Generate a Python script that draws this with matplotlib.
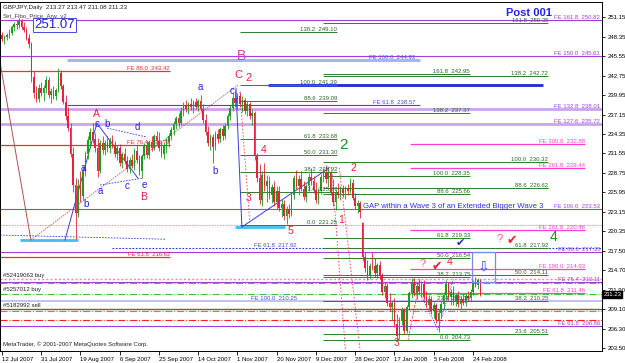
import matplotlib
matplotlib.use('Agg')
import matplotlib.pyplot as plt
import matplotlib.transforms as mtransforms
from matplotlib.patches import Rectangle
import numpy as np

plt.rcParams['font.family'] = ['Liberation Sans', 'DejaVu Sans']

# --- GBPJPY daily bars, 12 Jul 2007 .. 26 Feb 2008 ---
opens = [248.6, 248.0, 248.3, 248.6, 248.9, 249.8, 250.2, 250.0, 250.6, 249.8,
         249.3, 248.2, 247.3, 242.6, 240.3, 239.4, 241.0, 240.2, 240.9, 242.1,
         239.9, 240.6, 239.8, 240.7, 243.2, 241.2, 239.0, 237.0, 235.2, 231.5,
         227.0, 223.0, 226.8, 225.4, 229.2, 231.4, 233.5, 234.6, 233.6, 232.4,
         229.0, 233.0, 232.0, 233.1, 232.4, 233.5, 232.7, 231.4, 232.3, 230.2,
         231.5, 230.4, 229.3, 230.6, 229.8, 231.9, 230.6, 229.0, 231.2, 232.6,
         231.3, 233.2, 232.4, 234.0, 233.3, 232.3, 231.5, 232.6, 233.2, 234.1,
         234.9, 235.8, 236.6, 235.9, 237.7, 238.4, 238.0, 238.7, 238.2, 239.0,
         238.3, 239.1, 238.0, 236.4, 234.6, 233.0, 233.9, 232.5, 234.3, 233.6,
         235.0, 234.0, 235.5, 237.0, 238.1, 239.6, 238.8, 239.8, 238.6, 239.2,
         237.6, 238.6, 236.9, 237.4, 231.2, 228.0, 224.8, 228.5, 226.8, 227.6,
         225.6, 226.7, 224.5, 226.2, 223.7, 224.3, 222.6, 223.5, 222.8, 225.6,
         228.0, 226.9, 227.9, 226.5, 225.3, 226.8, 228.1, 227.6, 226.3, 224.9,
         226.1, 228.2, 228.9, 227.8, 228.7, 226.0, 224.6, 226.0, 225.5, 226.4,
         225.8, 226.5, 226.1, 227.3, 225.2, 224.0, 224.4, 221.5, 216.6, 215.0,
         213.9, 215.4, 215.3, 214.3, 215.5, 213.9, 211.6, 212.5, 210.0, 209.4,
         210.0, 207.0, 205.3, 207.5, 209.0, 206.0, 209.4, 211.4, 213.0, 211.5,
         212.4, 211.7, 212.8, 210.9, 209.8, 210.6, 208.8, 209.7, 207.6, 208.6,
         209.9, 211.1, 212.8, 210.9, 211.6, 210.2, 211.1, 209.9, 210.6, 210.0,
         211.0, 210.7, 211.6, 213.0, 212.6, 213.27]
highs = [249.0, 248.6, 248.9, 249.4, 250.0, 250.5, 250.8, 251.07, 250.9, 250.4,
         249.8, 248.7, 247.6, 243.4, 241.2, 241.5, 241.9, 241.4, 242.7, 242.5,
         241.0, 241.3, 241.0, 243.8, 243.5, 241.5, 240.0, 238.3, 236.0, 232.5,
         228.0, 227.8, 229.0, 229.8, 231.9, 234.0, 235.2, 235.9, 234.5, 233.8,
         233.5, 234.1, 233.5, 234.0, 233.9, 234.2, 233.4, 232.8, 232.9, 231.8,
         232.4, 231.2, 231.0, 231.5, 232.4, 232.8, 231.3, 231.5, 233.0, 233.3,
         233.5, 234.0, 234.4, 234.8, 234.6, 233.4, 233.0, 233.8, 234.5, 235.3,
         236.2, 237.0, 237.4, 238.2, 238.9, 239.3, 239.0, 239.5, 239.3, 239.6,
         239.4, 240.0, 238.6, 237.2, 235.5, 234.4, 234.3, 234.8, 235.0, 235.4,
         235.6, 236.0, 237.4, 238.5, 240.2, 240.7, 240.3, 240.4, 239.8, 239.6,
         239.1, 239.0, 238.0, 237.6, 231.6, 230.0, 229.0, 230.2, 228.4, 228.3,
         227.2, 227.6, 226.8, 226.9, 225.0, 224.9, 224.0, 224.2, 226.0, 228.5,
         229.2, 228.4, 229.0, 227.6, 227.2, 228.7, 229.4, 228.3, 227.5, 226.6,
         228.6, 229.5, 229.9, 229.3, 229.0, 227.9, 226.5, 227.3, 226.8, 227.0,
         226.9, 227.2, 228.0, 227.8, 225.9, 224.9, 224.7, 221.7, 217.4, 216.2,
         215.8, 217.3, 216.5, 215.8, 216.0, 214.3, 213.0, 212.9, 211.5, 210.5,
         210.8, 208.4, 208.0, 209.5, 209.3, 209.8, 211.8, 213.6, 213.6, 213.0,
         213.5, 213.2, 213.3, 211.8, 211.2, 211.0, 210.1, 210.0, 209.2, 210.3,
         211.6, 213.3, 213.0, 212.0, 212.4, 211.5, 211.7, 211.0, 211.3, 211.4,
         211.8, 212.0, 213.4, 213.8, 213.6, 213.47]
lows = [247.8, 247.3, 247.9, 248.2, 248.6, 249.2, 249.5, 249.6, 249.4, 249.0,
        247.9, 246.8, 241.9, 239.6, 238.9, 239.0, 239.8, 239.1, 240.3, 239.5,
        238.8, 239.4, 239.3, 240.4, 240.8, 238.6, 236.4, 234.8, 231.0, 226.0,
        219.2, 222.4, 224.5, 224.9, 228.3, 230.8, 232.4, 233.1, 231.8, 228.2,
        228.7, 231.5, 231.3, 231.8, 231.6, 232.3, 231.0, 230.6, 229.8, 229.4,
        230.0, 228.9, 228.7, 229.5, 229.2, 230.2, 228.5, 228.0, 230.7, 230.9,
        230.8, 231.9, 232.0, 232.8, 231.9, 231.1, 230.8, 231.6, 232.5, 233.5,
        234.2, 235.0, 235.3, 235.6, 236.9, 237.5, 237.2, 237.8, 237.4, 237.9,
        237.6, 237.6, 236.0, 234.2, 232.6, 232.0, 230.2, 232.0, 233.0, 233.2,
        233.5, 233.6, 235.0, 236.4, 237.6, 238.2, 237.9, 238.3, 237.5, 237.2,
        237.0, 236.5, 235.6, 230.6, 227.5, 224.2, 224.0, 226.2, 224.5, 225.0,
        224.4, 224.0, 223.6, 223.2, 222.4, 222.0, 221.4, 222.2, 222.5, 225.0,
        226.4, 225.6, 226.1, 224.8, 224.6, 226.2, 227.0, 225.9, 224.4, 224.3,
        225.7, 227.4, 227.3, 226.7, 225.6, 224.0, 223.4, 225.2, 224.9, 225.3,
        225.0, 225.6, 225.8, 224.8, 223.5, 223.0, 222.3, 216.0, 214.5, 213.4,
        213.5, 214.7, 213.8, 213.6, 213.5, 211.2, 210.8, 209.6, 208.9, 207.6,
        206.5, 204.5, 204.9, 206.8, 205.6, 205.7, 209.0, 210.8, 211.0, 210.6,
        211.3, 210.9, 210.5, 209.4, 209.0, 208.4, 207.8, 207.2, 205.8, 207.9,
        209.3, 210.6, 210.5, 209.8, 209.8, 209.6, 209.5, 209.2, 209.7, 209.6,
        210.3, 210.3, 211.2, 212.3, 212.0, 211.08]
closes = [248.0, 248.3, 248.6, 248.9, 249.8, 250.2, 250.0, 250.6, 249.8, 249.3,
          248.2, 247.3, 242.6, 240.3, 239.4, 241.0, 240.2, 240.9, 242.1, 239.9,
          240.6, 239.8, 240.7, 243.2, 241.2, 239.0, 237.0, 235.2, 231.5, 227.0,
          223.0, 226.8, 225.4, 229.2, 231.4, 233.5, 234.6, 233.6, 232.4, 229.0,
          233.0, 232.0, 233.1, 232.4, 233.5, 232.7, 231.4, 232.3, 230.2, 231.5,
          230.4, 229.3, 230.6, 229.8, 231.9, 230.6, 229.0, 231.2, 232.6, 231.3,
          233.2, 232.4, 234.0, 233.3, 232.3, 231.5, 232.6, 233.2, 234.1, 234.9,
          235.8, 236.6, 235.9, 237.7, 238.4, 238.0, 238.7, 238.2, 239.0, 238.3,
          239.1, 238.0, 236.4, 234.6, 233.0, 233.9, 232.5, 234.3, 233.6, 235.0,
          234.0, 235.5, 237.0, 238.1, 239.6, 238.8, 239.8, 238.6, 239.2, 237.6,
          238.6, 236.9, 237.4, 231.2, 228.0, 224.8, 228.5, 226.8, 227.6, 225.6,
          226.7, 224.5, 226.2, 223.7, 224.3, 222.6, 223.5, 222.8, 225.6, 228.0,
          226.9, 227.9, 226.5, 225.3, 226.8, 228.1, 227.6, 226.3, 224.9, 226.1,
          228.2, 228.9, 227.8, 228.7, 226.0, 224.6, 226.0, 225.5, 226.4, 225.8,
          226.5, 226.1, 227.3, 225.2, 224.0, 224.4, 223.1, 216.6, 215.0, 213.9,
          215.4, 215.3, 214.3, 215.5, 213.9, 211.6, 212.5, 210.0, 209.4, 210.0,
          207.0, 205.3, 207.5, 209.0, 206.0, 209.4, 211.4, 213.0, 211.5, 212.4,
          211.7, 212.8, 210.9, 209.8, 210.6, 208.8, 209.7, 207.6, 208.6, 209.9,
          211.1, 212.8, 210.9, 211.6, 210.2, 211.1, 209.9, 210.6, 210.0, 211.0,
          210.7, 211.6, 213.0, 212.6, 213.27, 211.23]

date_labels = ['12 Jul 2007', '31 Jul 2007', '19 Aug 2007', '6 Sep 2007', '25 Sep 2007',
               '14 Oct 2007', '1 Nov 2007', '20 Nov 2007', '9 Dec 2007', '28 Dec 2007',
               '17 Jan 2008', '5 Feb 2008', '24 Feb 2008']
date_bars = [0, 16, 32, 48, 64, 80, 96, 112, 128, 144, 160, 176, 192]
price_ticks = [251.15, 248.35, 245.55, 242.75, 239.95, 237.15, 234.35, 231.55, 228.75,
               225.95, 223.15, 220.35, 217.50, 214.70, 211.90, 209.10, 206.30, 203.50]

# FE projections drawn across the whole chart
fe_full_prices = [250.82, 245.61, 223.53, 217.35, 213.11, 206.66]
fe_full_labels = ['FE 161.8  250.82', 'FE 150.0  245.61', 'FE 100.0  223.53',
                  'FE 86.0  217.35', 'FE 76.4  213.11', 'FE 61.8  206.66']
fe_wide_prices = [238.01, 235.72]
fe_wide_labels = ['FE 132.8  238.01', 'FE 127.6  235.72']
# pink FE set on the right
fe_pink_prices = [232.88, 229.44, 220.46, 214.93, 211.46]
fe_pink_labels = ['FE 300.0  232.88', 'FE 261.8  229.44', 'FE 161.8  220.46',
                  'FE 100.0  214.93', 'FE 61.8  211.46']
# red FE set on the left
fe_red_prices = [243.42, 232.79, 216.62]
fe_red_labels = ['FE 86.0  243.42', 'FE 76.4  232.79', 'FE 61.8  216.62']

# fibo retracement / expansion sets (ratio, price)
fib1_ratios = ['138.2', '100.0', '88.6', '61.8', '50.0', '38.2', '23.6', '0.0']
fib1_prices = [249.10, 241.39, 239.09, 233.68, 231.30, 228.92, 225.97, 221.25]
fib2_ratios = ['161.8', '138.2', '100.0', '88.6', '61.8', '50.0', '38.2', '23.6', '0.0']
fib2_prices = [242.95, 237.37, 228.35, 225.66, 219.33, 216.54, 213.75, 210.30, 204.73]
fib3_ratios = ['161.8', '138.2', '100.0', '88.6', '61.8', '50.0', '38.2', '23.6']
fib3_prices = [250.35, 242.72, 230.32, 226.62, 217.92, 214.11, 210.25, 205.51]

# open orders
order_prices = [213.47, 211.35, 209.15]
order_labels = ['#52419063 buy', '#5257012 buy', '#5182992 sell']
sl_tp_prices = [212.90, 208.90, 207.60]

PURPLE = '#a040d8'
LAVENDER = '#c9a4f2'
PINK = '#ff40d0'
GREEN = '#2e7d2e'
RED = '#e8203c'
BLUE = '#2424e0'

fig = plt.figure(figsize=(6.25, 3.63), dpi=100)
ax = fig.add_axes([0.0, 12 / 363, 602 / 625, 349 / 363])
ax.set_xlim(-0.8, 244.6)
ax.set_ylim(203.11, 253.35)

n = len(closes)
idx = np.arange(n)
o = np.array(opens)
c = np.array(closes)
h = np.array(highs)
l = np.array(lows)
up = c >= o
cols = np.where(up, '#1f9a1f', RED)

XR = 244.6  # right edge in bar units

# --- horizontal levels ---
ax.hlines(fe_full_prices, -0.8, XR, color=PURPLE, lw=0.8, zorder=1)
ax.hlines(fe_wide_prices, -0.8, XR, color=LAVENDER, lw=2.0, zorder=1)
for p, t in zip(fe_full_prices + fe_wide_prices, fe_full_labels + fe_wide_labels):
    ax.text(243.8, p, t, ha='right', va='bottom', fontsize=4.3, color=PURPLE, zorder=4)

ax.hlines(fe_pink_prices, 166.3, 237.7, color=PINK, lw=0.9, zorder=1)
for p, t in zip(fe_pink_prices, fe_pink_labels):
    ax.text(237.7, p, t, ha='right', va='bottom', fontsize=4.3, color=PINK, zorder=4)

ax.hlines(fe_red_prices, -0.8, 68.5, color='#ee3030', lw=0.9, zorder=1)
for p, t in zip(fe_red_prices, fe_red_labels):
    ax.text(68.5, p, t, ha='right', va='bottom', fontsize=4.3, color='#e03030', zorder=4)

# blue FE levels
ax.hlines(244.93, 26.5, 170.4, color='#a8b4f4', lw=2.2, zorder=1)
ax.text(168.5, 244.93, 'FE 100.0  244.93', ha='right', va='bottom', fontsize=4.3, color='#4050e0', zorder=4)
ax.hlines(238.57, 26.5, 170.4, color='#3a4ae0', lw=0.8, zorder=1)
ax.text(168.5, 238.57, 'FE 61.8  238.57', ha='right', va='bottom', fontsize=4.3, color='#4050e0', zorder=4)
ax.hlines(217.92, 45.0, XR, color='#2030c0', lw=0.8, linestyles=(0, (1.5, 1.5)), zorder=1)
ax.text(120.3, 217.92, 'FE 61.8  217.92', ha='right', va='bottom', fontsize=4.3, color='#4050e0', zorder=4)
ax.hlines(210.25, -0.8, XR, color='#b8b8f0', lw=1.2, zorder=1)
ax.text(120.3, 210.25, 'FE 100.0  210.25', ha='right', va='bottom', fontsize=4.3, color='#4050e0', zorder=4)
ax.hlines(241.39, 108.5, 220.5, color='#1a2ad8', lw=2.0, zorder=1)
ax.hlines(221.25, -0.8, XR, color='#f0a0a0', lw=0.8, linestyles=(0, (1.5, 1)), zorder=1)

# fibo sets
for ratios, prices, x0, x1 in [(fib1_ratios, fib1_prices, 97.0, 136.6),
                               (fib2_ratios, fib2_prices, 131.0, 190.8),
                               (fib3_ratios, fib3_prices, 131.0, 222.6)]:
    ax.hlines(prices, x0, x1, color=GREEN, lw=0.7, zorder=1)
    for r, p in zip(ratios, prices):
        ax.text(x1, p, f'{r}  {p:.2f}', ha='right', va='bottom', fontsize=4.3, color='#256a25', zorder=4)

# orders
ax.hlines(order_prices[0], -0.8, XR, color='#f08ca0', lw=1.0, linestyles=(0, (1.5, 1.5)), zorder=1)
ax.hlines(order_prices[1], -0.8, XR, color='#40c040', lw=0.8, linestyles='dashdot', zorder=1)
ax.hlines(order_prices[2], -0.8, XR, color='#a04848', lw=1.0, zorder=1)
ax.hlines(sl_tp_prices[:2], -0.8, XR, color='#40c040', lw=0.8, linestyles='dashdot', zorder=1)
ax.hlines(sl_tp_prices[2], -0.8, XR, color='#ff2020', lw=0.8, linestyles='dashdot', zorder=1)
for p, t in zip(order_prices, order_labels):
    ax.text(0.6, p + 0.2, t, ha='left', va='bottom', fontsize=4.3, color='#202020', zorder=4)

# cyan base marks
ax.hlines([219.09, 220.96], [7.3, 95.0], [31.0, 115.4], color='#40c0f0', lw=2.0, zorder=2)

# --- trend / wave lines ---
ax.plot([-0.8, 11.8], [244.7, 219.1], color='#b05050', lw=0.7, zorder=2)
ax.plot([11.8, 96.2], [219.1, 241.4], color='#c06868', lw=0.6, ls=(0, (2, 1)), zorder=2)
ax.plot([25.7, 38.7, 55.4], [219.1, 235.9, 228.0], color='#3c3ce0', lw=0.7, zorder=2)
ax.plot([42.8, 59.1], [235.2, 233.9], color='#3c3ce0', lw=0.6, ls=(0, (2, 1.5)), zorder=2)
ax.plot([40.0, 57.5], [227.0, 228.0], color='#3c3ce0', lw=0.6, ls=(0, (2, 1.5)), zorder=2)
ax.plot([95.4, 97.8, 133.5], [240.9, 220.96, 229.5], color='#3c3ce0', lw=0.7, zorder=2)
ax.plot([-0.8, 66.5], [219.8, 219.2], color='#3c3ce0', lw=0.6, ls=(0, (2, 1.5)), zorder=2)
for xs, ys in [([97.0, 101.0], [240.4, 221.6]), ([134.5, 140.0], [229.0, 203.2]),
               ([137.5, 146.0], [229.5, 203.2])]:
    ax.plot(xs, ys, color='#f04050', lw=0.6, ls=(0, (2, 2)), zorder=2)
ax.plot([165.5, 170.4], [204.6, 213.4], color='#e04040', lw=0.6, ls=(0, (3, 1.5)), zorder=2)
ax.plot([167.5, 177.7, 184.0], [213.4, 206.2, 213.4], color='#3c3ce0', lw=0.6, ls=(0, (1.5, 1.5)), zorder=2)

# --- candles ---
ax.vlines(idx, l, h, colors=cols, lw=0.6, zorder=3)
body = np.maximum(np.abs(c - o), 0.12)
ax.bar(idx, body, bottom=np.minimum(o, c), width=0.65, color=cols, lw=0, zorder=3)

# --- wave labels ---
def lab(x, y, s, col, fs=7.5, weight='normal'):
    ax.text(x, y, s, ha='center', va='center', fontsize=fs, color=col, fontweight=weight, zorder=5)

lab(38.7, 237.2, 'A', RED)
lab(57.9, 225.3, 'B', RED)
lab(33.0, 229.5, 'a', BLUE, 7)
lab(34.2, 224.3, 'b', BLUE, 7)
lab(38.7, 235.8, 'c', BLUE, 7)
lab(42.8, 235.8, 'b', BLUE, 7)
lab(55.0, 235.4, 'd', BLUE, 7)
lab(40.0, 226.1, 'a', BLUE, 7)
lab(51.0, 226.9, 'c', BLUE, 7)
lab(57.9, 227.0, 'e', BLUE, 7)
lab(80.7, 241.1, 'a', BLUE, 7)
lab(86.8, 229.0, 'b', BLUE, 7)
lab(93.6, 240.6, 'c', BLUE, 7)
lab(96.2, 242.8, 'C', RED, 8)
lab(100.6, 242.4, '2', RED, 8)
lab(97.8, 245.6, 'B', '#e040a8', 10)
lab(106.8, 232.05, '4', RED)
lab(100.7, 225.1, '3', RED)
lab(117.8, 220.4, '5', RED)
lab(139.4, 232.8, '2', '#1f8f1f', 11)
lab(143.1, 229.45, '2', RED)
lab(138.2, 221.97, '1', RED)
lab(225.0, 219.5, '4', '#1f8f1f', 10)
lab(203.0, 219.2, '?', '#ff50a0', 8)
lab(207.9, 219.0, '\u2714', RED, 9)
lab(186.7, 218.7, '\u2714', BLUE, 8)
lab(171.6, 215.6, '?', '#ff50a0', 8)
lab(177.3, 215.2, '\u2714', RED, 9)
lab(182.6, 215.9, '4', RED)
lab(161.0, 204.2, '3', RED)

ax.text(147.2, 223.84, 'GAP within a Wave 3 of an Extended Bigger Wave 3', ha='left', va='center',
        fontsize=5.6, color='#3030e0', zorder=5)
ax.add_patch(Rectangle((191.6, 213.0), 9.4, 4.4, fill=False, ec='#7c86ee', lw=0.9, zorder=5))
lab(196.3, 215.3, '\u21e9', '#3050e0', 10)
ax.text(21.5, 250.0, '251.07', ha='center', va='center', fontsize=9.5, color='#2020e0', zorder=6,
        bbox=dict(boxstyle='square,pad=0.08', fc='white', ec='#4848e8', lw=0.7))
ax.text(214.8, 251.8, 'Post 001', ha='center', va='center', fontsize=8, color='#2020f0',
        fontweight='bold', zorder=6)

ax.text(0.005, 0.99, 'GBPJPY,Daily  213.27 213.47 211.08 211.23', transform=ax.transAxes,
        ha='left', va='top', fontsize=4.5, color='#202020', zorder=6)
ax.text(0.005, 0.968, 'Set_Fibo_Price_Arw_v2', transform=ax.transAxes,
        ha='left', va='top', fontsize=4.3, color='#404040', zorder=6)
ax.text(0.005, 0.012, 'MetaTrader, \u00a9 2001-2007 MetaQuotes Software Corp.', transform=ax.transAxes,
        ha='left', va='bottom', fontsize=4.3, color='#202020', zorder=6)

# --- axes styling ---
for s in ax.spines.values():
    s.set_color('black')
    s.set_linewidth(0.7)
ax.yaxis.tick_right()
ax.set_yticks(price_ticks)
ax.set_yticklabels([f'{v:.2f}' for v in price_ticks])
ax.tick_params(axis='y', length=2.5, width=0.6, pad=1.5, labelsize=4.3)
ax.set_xticks(date_bars)
ax.set_xticklabels(date_labels, ha='left')
ax.tick_params(axis='x', length=3, width=0.6, pad=1.5, labelsize=4.3)

tr = mtransforms.blended_transform_factory(ax.transAxes, ax.transData)
ax.text(1.002, 211.23, '211.23', transform=tr, ha='left', va='center', fontsize=4.3, color='white',
        bbox=dict(boxstyle='square,pad=0.15', fc='black', ec='black'), zorder=6, clip_on=False)

fig.savefig('out.png', dpi=100)
